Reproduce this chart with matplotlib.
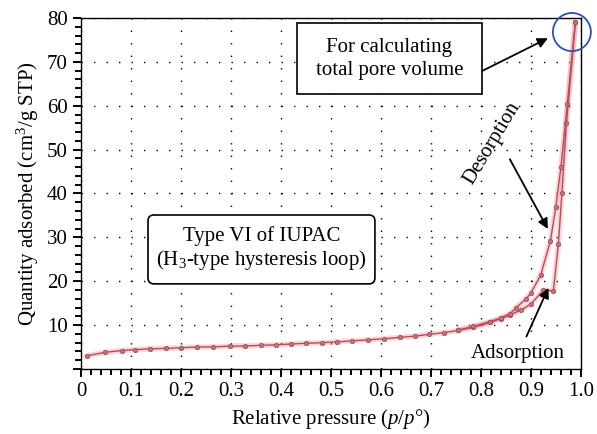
import numpy as np
import matplotlib.pyplot as plt
from matplotlib.patches import Ellipse, FancyBboxPatch
from matplotlib.ticker import MultipleLocator

# isotherm values
ads_p = [0.011, 0.048, 0.081, 0.108, 0.139, 0.17, 0.2, 0.232, 0.264, 0.298, 0.328, 0.36,
         0.39, 0.42, 0.45, 0.482, 0.513, 0.543, 0.575, 0.607, 0.638, 0.668, 0.697,
         0.727, 0.755, 0.785, 0.818, 0.84, 0.858, 0.88, 0.9, 0.925, 0.945, 0.955,
         0.962, 0.971, 0.989]
ads_q = [3.0, 3.8, 4.2, 4.4, 4.6, 4.7, 4.85, 5.0, 5.05, 5.2, 5.25, 5.4,
         5.5, 5.7, 5.85, 6.0, 6.2, 6.4, 6.65, 6.9, 7.2, 7.5, 7.9,
         8.3, 8.8, 9.5, 10.6, 11.5, 12.3, 13.4, 14.8, 18.0, 17.8, 28.5,
         40.0, 56.0, 79.0]
des_p = [0.989, 0.973, 0.96, 0.95, 0.939, 0.92, 0.9, 0.89, 0.87, 0.858, 0.84, 0.818, 0.785, 0.755]
des_q = [79.0, 60.5, 46.0, 37.0, 29.2, 21.5, 17.3, 16.0, 13.9, 12.6, 11.6, 10.8, 9.7, 8.9]

plt.rcParams['font.family'] = 'Liberation Serif'
plt.rcParams['mathtext.fontset'] = 'custom'
plt.rcParams['mathtext.rm'] = 'Liberation Serif'
plt.rcParams['mathtext.it'] = 'Liberation Serif:italic'

fig = plt.figure(figsize=(5.97, 4.34), dpi=100)
ax = fig.add_axes([0.1357, 0.1498, 0.8373, 0.8087])

# soft red halo + thin line with markers
for p, q in [(ads_p, ads_q), (des_p, des_q)]:
    ax.plot(p, q, color='#f08080', lw=4, alpha=0.3, solid_capstyle='round', zorder=2)
    ax.plot(p, q, color='#b84a5a', lw=1.0, marker='o', ms=3.2,
            mfc='#c7707c', mec='#9a4a58', mew=0.5, zorder=3)

ax.set_xlim(0, 1.0)
ax.set_ylim(0, 80)
ax.set_xticks(np.arange(0, 1.01, 0.1))
ax.set_xticklabels(['0'] + ['%.1f' % v for v in np.arange(0.1, 1.01, 0.1)])
ax.set_yticks(np.arange(0, 81, 10))
ax.set_yticklabels([''] + [str(v) for v in range(10, 81, 10)])
ax.xaxis.set_minor_locator(MultipleLocator(0.02))
ax.yaxis.set_minor_locator(MultipleLocator(2))
ax.tick_params(which='major', direction='out', length=6, width=1.4, labelsize=15)
ax.tick_params(which='minor', direction='out', length=4, width=1.4)
ax.grid(which='major', color='black', linestyle=(0, (1, 8)), linewidth=1.0)
for s in ax.spines.values():
    s.set_linewidth(1.0)

ax.set_xlabel(r'Relative pressure ($p$/$p$°)', fontsize=15, labelpad=4)
ax.set_ylabel(r'Quantity adsorbed (cm$^3$/g STP)', fontsize=15, labelpad=4)

arrow = dict(arrowstyle='-|>', color='black', lw=1.3, mutation_scale=15, shrinkA=0, shrinkB=0)

# top box
ax.add_patch(FancyBboxPatch((0.432, 62.6), 0.37, 16.2, boxstyle='square,pad=0',
                            fc='white', ec='black', lw=1.2, zorder=5))
ax.text(0.617, 70.6, 'For calculating\ntotal pore volume', ha='center', va='center',
        fontsize=15, linespacing=1.3, zorder=6)
ax.annotate('', xy=(0.934, 75.4), xytext=(0.802, 67.9), arrowprops=arrow)
ax.add_patch(Ellipse((0.982, 76.8), 0.076, 8.7, fill=False, ec='#3050b0', lw=1.3,
                     clip_on=False, zorder=6))

ax.text(0.822, 51.5, 'Desorption', rotation=59, ha='center', va='center', fontsize=15)
ax.annotate('', xy=(0.934, 31.9), xytext=(0.858, 47.8), arrowprops=arrow)

ax.text(0.874, 3.6, 'Adsorption', ha='center', va='center', fontsize=15,
        bbox=dict(boxstyle='square,pad=0.1', fc='white', ec='none'))
ax.annotate('', xy=(0.935, 18.5), xytext=(0.891, 7.4), arrowprops=arrow)

# Type VI box (rounded corners)
ax.add_patch(FancyBboxPatch((0.134, 19.4), 0.454, 15.7,
                            boxstyle='round,pad=0,rounding_size=0.012', mutation_aspect=114,
                            fc='white', ec='black', lw=1.2, zorder=5))
ax.text(0.361, 27.3, 'Type VI of IUPAC\n(H$_3$-type hysteresis loop)', ha='center',
        va='center', fontsize=15, linespacing=1.1, zorder=6)

fig.savefig('out.png', dpi=100)
